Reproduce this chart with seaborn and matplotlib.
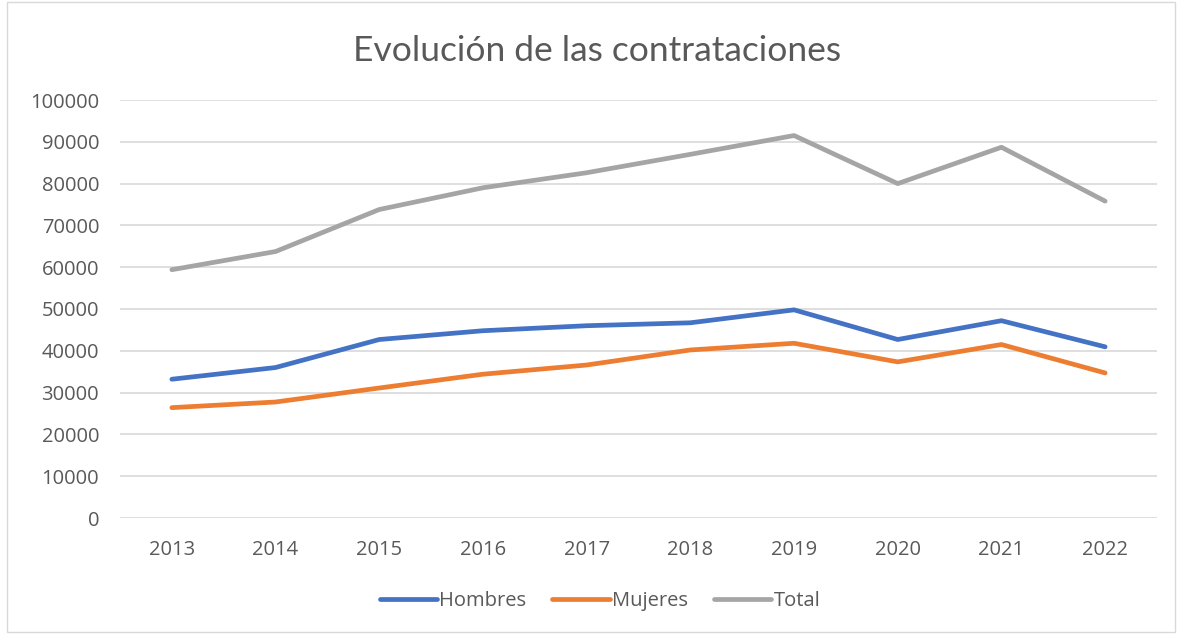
import matplotlib
matplotlib.use("Agg")
from matplotlib import pyplot as plt
from matplotlib.patches import Rectangle
import pandas as pd
import seaborn as sns

# values
years = [2013, 2014, 2015, 2016, 2017, 2018, 2019, 2020, 2021, 2022]
hombres = [33200, 36000, 42700, 44800, 46000, 46700, 49800, 42700, 47200, 40950]
mujeres = [26400, 27750, 31100, 34400, 36600, 40200, 41800, 37350, 41500, 34700]
total = [59400, 63750, 73800, 79000, 82600, 87000, 91500, 80000, 88700, 75800]
series_names = ["Hombres", "Mujeres", "Total"]
y_ticks = list(range(0, 100001, 10000))

df = pd.DataFrame({"year": [str(y) for y in years] * 3,
                   "value": hombres + mujeres + total,
                   "serie": sum([[s] * len(years) for s in series_names], [])})

sns.set_theme(style="white")
plt.rcParams['font.family'] = ['Open Sans', 'DejaVu Sans']

fig = plt.figure(figsize=(11.83, 6.34), dpi=100)
ax = fig.add_axes([120 / 1183, 1 - 518 / 634, 1037 / 1183, 418 / 634])

palette = {"Hombres": "#4472C4", "Mujeres": "#ED7D31", "Total": "#A5A5A5"}
sns.lineplot(data=df, x="year", y="value", hue="serie", palette=palette,
             linewidth=3.4, ax=ax, sort=False, solid_capstyle="round")

ax.set_xlim(-0.5, len(years) - 0.5)
ax.set_ylim(0, 100000)
ax.set_yticks(y_ticks)
ax.set_yticklabels([str(t) for t in y_ticks])
ax.yaxis.grid(True, color="#D9D9D9", linewidth=1.2)
ax.set_axisbelow(True)
for s in ax.spines.values():
    s.set_visible(False)
ax.tick_params(axis="both", length=0, labelsize=14.5, labelcolor="#595959")
ax.tick_params(axis="y", pad=15)
ax.tick_params(axis="x", pad=16)
ax.set_xlabel("")
ax.set_ylabel("")

fig.text(597 / 1183, 1 - 51 / 634, "Evolución de las contrataciones",
         ha="center", va="center", fontsize=25.5, color="#595959",
         family=["Lato", "DejaVu Sans"])

handles, labels = ax.get_legend_handles_labels()
ax.legend(handles, labels, loc="center", bbox_to_anchor=(600 / 1183, 1 - 601 / 634),
          bbox_transform=fig.transFigure, ncol=3, frameon=False,
          fontsize=14.5, labelcolor="#595959", handlelength=2.85,
          handletextpad=0.1, columnspacing=1.3)

# chart area border
fig.patches.append(Rectangle((7 / 1183, 2 / 634), 1168 / 1183, 630 / 634,
                             transform=fig.transFigure, fill=False,
                             edgecolor="#D9D9D9", linewidth=1))

fig.savefig("out.png", dpi=100)
